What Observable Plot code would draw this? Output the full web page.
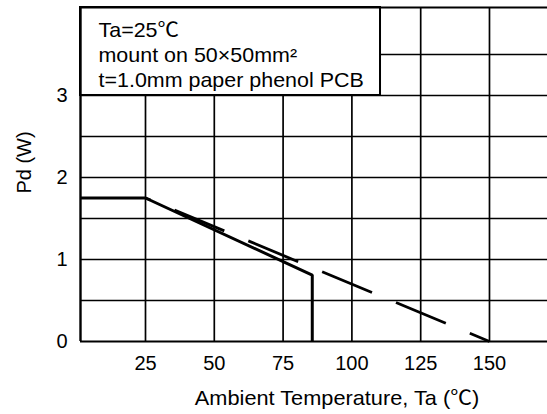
<!DOCTYPE html>
<html>
<head>
<meta charset="utf-8">
<script src="https://cdn.jsdelivr.net/npm/d3@7"></script>
<script src="https://cdn.jsdelivr.net/npm/@observablehq/plot@0.6"></script>
<style>
  html, body { margin: 0; padding: 0; background: #fff; }
  svg text { font-family: 'Liberation Sans', Arial, sans-serif; font-size: 20px; }
  tspan.cjk { font-family: 'Noto Sans CJK SC', sans-serif; }
</style>
</head>
<body>
<div id="chart"></div>
<script>
// ---- data ----
const xTicks = [25, 50, 75, 100, 125, 150];
const yTicks = [0, 1, 2, 3];
const xGrid = [25, 50, 75, 100, 125, 150];
const yGrid = [0.5, 1, 1.5, 2, 2.5, 3, 3.5];
const xDomain = [1.38, 171.08];
const yDomain = [0, 4.073];

// solid curve (Pd derating, actual mount)
const solidT = [0, 25, 85.6, 85.6];
const solidP = [1.75, 1.75, 0.81, 0];
// dashed curve (linear derating to 150 °C)
const dashT = [25, 150];
const dashP = [1.75, 0];

// condition box (data units)
const boxT = [1.38, 110.4];
const boxP = [3, 4.073];
const boxLines = ["Ta=25\u2103", "mount on 50\u00d750mm\u00b2", "t=1.0mm paper phenol PCB"];

const xLabel = "Ambient Temperature, Ta (\u2103)";
const yLabel = "Pd (W)";

// ---- build ----
const solid = solidT.map((t, i) => ({t, p: solidP[i]}));
const dashed = dashT.map((t, i) => ({t, p: dashP[i]}));
const boxText = boxLines.join("\n");

const chart = Plot.plot({
  width: 547,
  height: 414,
  marginLeft: 80,
  marginRight: 0,
  marginTop: 7,
  marginBottom: 73,
  style: {
    fontFamily: "'Liberation Sans', Arial, sans-serif",
    fontSize: "20px",
    background: "#fff",
    color: "#000"
  },
  x: {domain: xDomain, label: null},
  y: {domain: yDomain, label: null},
  marks: [
    Plot.ruleX(xGrid, {stroke: "#000", strokeWidth: 1.7}),
    Plot.ruleY(yGrid, {stroke: "#000", strokeWidth: 1.7}),
    Plot.rect([0], {x1: () => boxT[0], x2: () => boxT[1], y1: () => boxP[0], y2: () => boxP[1],
      fill: "#fff", stroke: "#000", strokeWidth: 2}),
    Plot.ruleX([xDomain[0]], {stroke: "#000", strokeWidth: 2.4}),
    Plot.ruleY([yDomain[0]], {stroke: "#000", strokeWidth: 2.2}),
    Plot.ruleY([yDomain[1]], {stroke: "#000", strokeWidth: 2.2}),
    Plot.axisX({ticks: xTicks, tickSize: 0, tickPadding: 14, tickFormat: "d",
      fontSize: 20, label: null, fill: "#000"}),
    Plot.axisY({ticks: yTicks, tickSize: 0, tickPadding: 13, tickFormat: "d",
      fontSize: 20, label: null, fill: "#000"}),
    Plot.line(dashed, {x: "t", y: "p", stroke: "#000", strokeWidth: 2.8,
      strokeDasharray: "54,26", strokeDashoffset: 48.6, strokeLinecap: "butt"}),
    Plot.line(solid, {x: "t", y: "p", stroke: "#000", strokeWidth: 3, clip: true,
      strokeLinejoin: "miter"}),
    Plot.text([boxText], {frameAnchor: "top-left", dx: 18, dy: 12,
      lineAnchor: "top", lineHeight: 1.25, textAnchor: "start", fill: "#000",
      fontSize: 20}),
    Plot.text([xLabel], {frameAnchor: "bottom", dx: 23, dy: 49, lineAnchor: "top",
      textAnchor: "middle", fill: "#000", fontSize: 20}),
    Plot.text([yLabel], {frameAnchor: "left", dx: -56, dy: -12, rotate: -90,
      textAnchor: "middle", fill: "#000", fontSize: 20})
  ]
});
document.getElementById("chart").appendChild(chart);

// find the text elements by content (before altering them)
const allText = Array.from(chart.querySelectorAll("text"));
const boxEl = allText.find(el => el.textContent.includes("mount on"));
const xLabelEl = allText.find(el => el.textContent.includes("Ambient"));

// render the ℃ sign with a CJK font, like the reference
d3.select(chart).selectAll("text, tspan").each(function() {
  const el = this;
  if (el.children && el.children.length) return;
  const s = el.textContent;
  if (!s.includes("\u2103")) return;
  const parts = s.split("\u2103");
  el.textContent = "";
  parts.forEach((part, i) => {
    if (part) el.appendChild(document.createTextNode(part));
    if (i < parts.length - 1) {
      const t = document.createElementNS("http://www.w3.org/2000/svg", "tspan");
      t.setAttribute("class", "cjk");
      t.textContent = "\u2103";
      el.appendChild(t);
    }
  });
});

// the reference's text is a little wider: stretch horizontally about its anchor
function stretch(el, k) {
  if (!el) return;
  const t = el.getAttribute("transform") || "";
  el.setAttribute("transform", (t + " scale(" + k + ",1)").trim());
}
stretch(boxEl, 1.073);
stretch(xLabelEl, 1.088);
</script>
</body>
</html>
